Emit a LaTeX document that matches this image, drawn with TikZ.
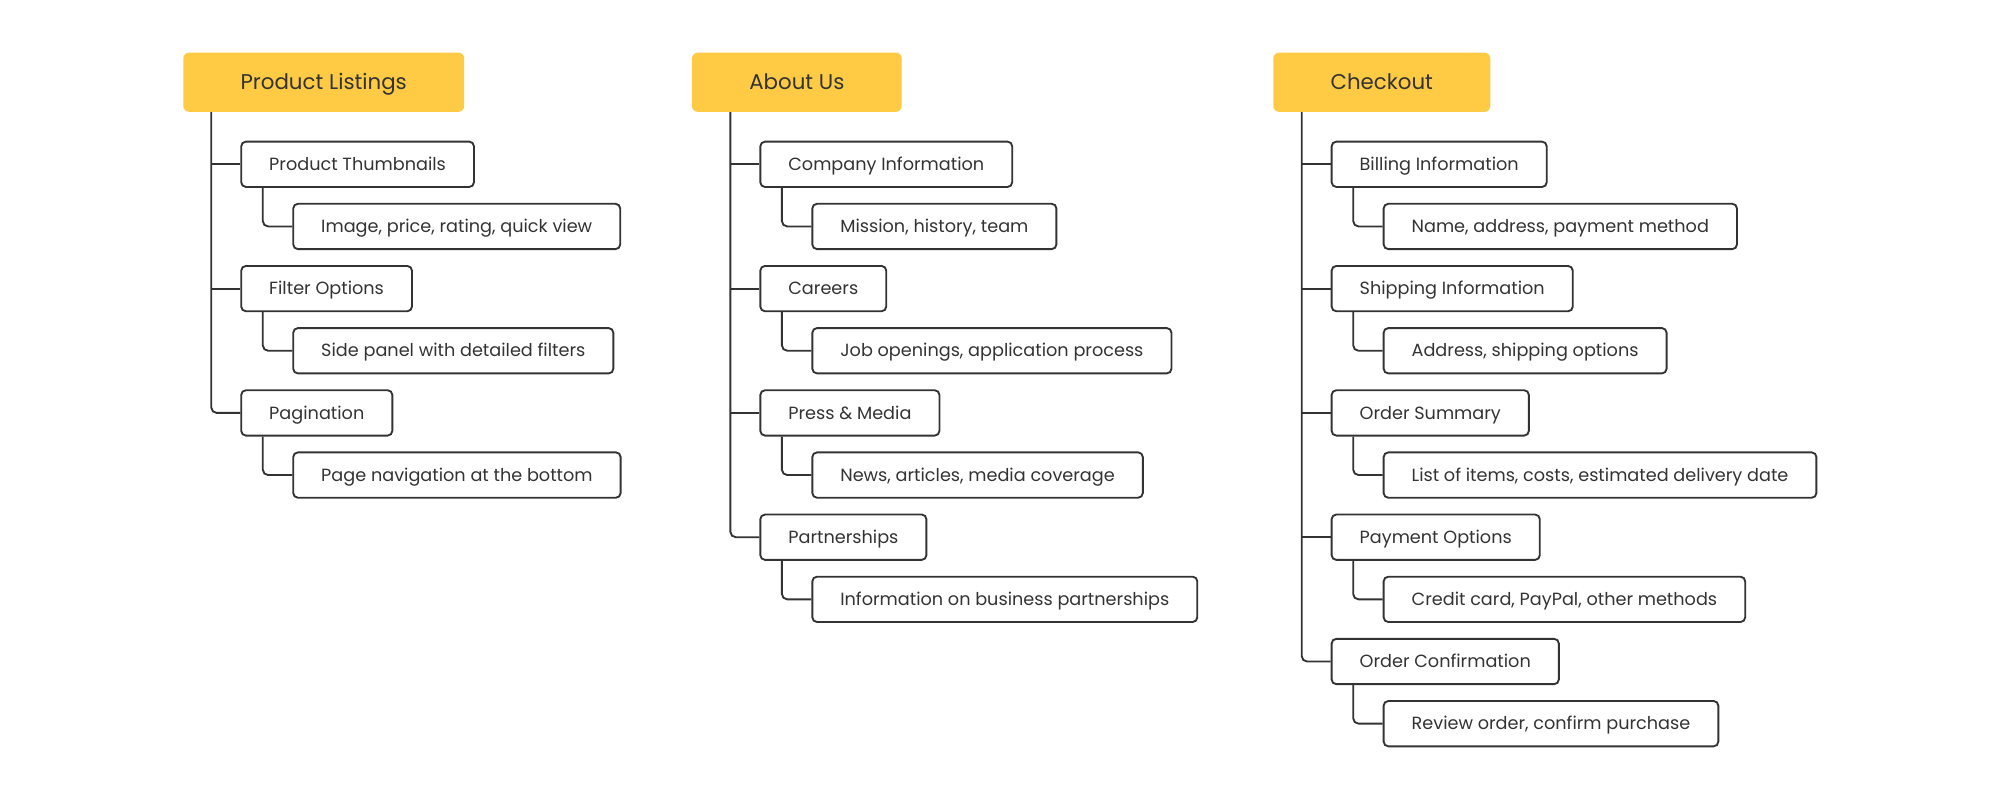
\documentclass[tikz,border=0pt]{standalone}
\usepackage{fontspec}
\setmainfont{Poppins}
\usetikzlibrary{calc}
\definecolor{headyellow}{HTML}{FFCB45}
\definecolor{inkgray}{HTML}{333333}
\tikzset{
  head/.style={fill=headyellow, rounded corners=4.5pt, anchor=north west,
    minimum height=44.5pt, inner xsep=43pt, text=inkgray,
    text height=11.2pt, text depth=0pt,
    font=\fontsize{16}{18}\selectfont},
  item/.style={draw=inkgray, line width=1.4pt, rounded corners=3.5pt, anchor=west,
    minimum height=34pt, inner xsep=21pt, text=inkgray,
    text height=9.25pt, text depth=0pt,
    font=\fontsize{13.25}{15}\selectfont},
  link/.style={draw=inkgray, line width=1.4pt, rounded corners=4pt}
}
% a child box with its detail box below it
\def\drawItem#1#2#3#4{
\node[item] (#1) at (29,#2) {#3};
\node[item] (#1a) at (81,#2+62.15) {#4};
\draw[link] ($(#1.south west)+(22.5,0)$) |- (#1a.west);
}

\begin{document}
\begin{tikzpicture}[x=0.75pt, y=-0.75pt]
	\useasboundingbox (0,0) rectangle (2000,800);
	\begin{scope}[shift={(211.3,0)}]
	\coordinate (T) at (0,0);
	\node[head] (pl) at (-28.3,52.3) {Product Listings};
	\drawItem{pl1}{164.3}{Product Thumbnails}{Image, price, rating, quick view}
	\drawItem{pl2}{288.6}{Filter Options}{Side panel with detailed filters}
	\drawItem{pl3}{412.9}{Pagination}{Page navigation at the bottom}
	\foreach \i in {1,2} \draw[link] (T |- pl\i.west) -- (pl\i.west);
	\draw[link] (T |- pl.south) |- (pl3.west);
	\end{scope}
	\begin{scope}[shift={(730.4,0)}]
	\coordinate (T) at (0,0);
	\node[head] (au) at (-38.7,52.3) {About Us};
	\drawItem{au1}{164.3}{Company Information}{Mission, history, team}
	\drawItem{au2}{288.6}{Careers}{Job openings, application process}
	\drawItem{au3}{412.9}{Press \& Media}{News, articles, media coverage}
	\drawItem{au4}{537.2}{Partnerships}{Information on business partnerships}
	\foreach \i in {1,2,3} \draw[link] (T |- au\i.west) -- (au\i.west);
	\draw[link] (T |- au.south) |- (au4.west);
	\end{scope}
	\begin{scope}[shift={(1301.7,0)}]
	\coordinate (T) at (0,0);
	\node[head] (co) at (-28.7,52.3) {Checkout};
	\drawItem{co1}{164.3}{Billing Information}{Name, address, payment method}
	\drawItem{co2}{288.6}{Shipping Information}{Address, shipping options}
	\drawItem{co3}{412.9}{Order Summary}{List of items, costs, estimated delivery date}
	\drawItem{co4}{537.2}{Payment Options}{Credit card, PayPal, other methods}
	\drawItem{co5}{661.5}{Order Confirmation}{Review order, confirm purchase}
	\foreach \i in {1,2,3,4} \draw[link] (T |- co\i.west) -- (co\i.west);
	\draw[link] (T |- co.south) |- (co5.west);
	\end{scope}
\end{tikzpicture}
\end{document}
